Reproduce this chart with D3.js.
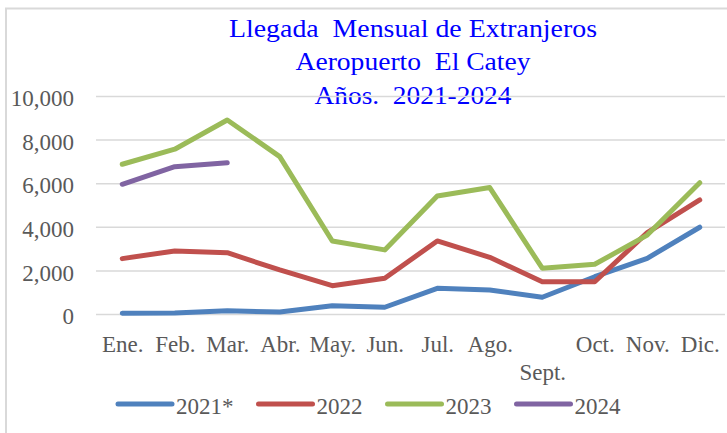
<!DOCTYPE html>
<html>
<head>
<meta charset="utf-8">
<script src="https://cdn.jsdelivr.net/npm/d3@7"></script>
<style>
  body { margin: 0; background: #fff; }
  svg text { font-family: "Liberation Serif", "Times New Roman", serif; }
</style>
</head>
<body>
<div id="chart"></div>
<script>
// monthly foreign arrivals, El Catey airport
const months = ["Ene.", "Feb.", "Mar.", "Abr.", "May.", "Jun.", "Jul.", "Ago.", "Sept.", "Oct.", "Nov.", "Dic."];
const seriesNames = ["2021*", "2022", "2023", "2024"];
const values2021 = [30, 50, 150, 90, 380, 310, 1180, 1100, 770, 1710, 2555, 3980];
const values2022 = [2540, 2890, 2810, 2020, 1300, 1640, 3350, 2600, 1480, 1480, 3730, 5230];
const values2023 = [6870, 7560, 8900, 7220, 3350, 2940, 5410, 5800, 2100, 2280, 3620, 6020];
const values2024 = [5950, 6760, 6940];
const yTicks = [0, 2000, 4000, 6000, 8000, 10000];
const titleLines = ["Llegada  Mensual de Extranjeros", "Aeropuerto  El Catey", "Años.  2021-2024"];

const colors = ["#4F81BD", "#C0504D", "#9BBB59", "#8064A2"];
const allValues = [values2021, values2022, values2023, values2024];

const width = 727, height = 433;
const margin = {top: 96, right: 1, bottom: 119, left: 96};
const innerW = width - margin.left - margin.right;
const innerH = height - margin.top - margin.bottom;

const svg = d3.select("#chart").append("svg")
  .attr("width", width)
  .attr("height", height);

svg.append("rect")
  .attr("width", width).attr("height", height)
  .attr("fill", "#fff");

// chart frame (cut off at right and bottom)
svg.append("rect")
  .attr("x", 6).attr("y", 8.5)
  .attr("width", 740).attr("height", 450)
  .attr("fill", "none")
  .attr("stroke", "#d9d9d9")
  .attr("stroke-width", 2);

// title
svg.append("g").selectAll("text")
  .data(titleLines)
  .join("text")
  .attr("x", 413)
  .attr("y", (d, i) => 36.5 + i * 33.5)
  .attr("text-anchor", "middle")
  .attr("fill", "#0000FF")
  .attr("font-size", 25)
  .attr("textLength", (d, i) => [368, 235, 197][i])
  .attr("lengthAdjust", "spacingAndGlyphs")
  .style("white-space", "pre")
  .text(d => d);

const g = svg.append("g")
  .attr("transform", "translate(" + margin.left + "," + margin.top + ")");

const x = d3.scalePoint()
  .domain(months)
  .range([0, innerW])
  .padding(0.5);

const y = d3.scaleLinear()
  .domain([0, 10000])
  .range([innerH, 0]);

// y axis + gridlines
const yAxis = g.append("g")
  .call(d3.axisLeft(y)
    .tickValues(yTicks)
    .tickFormat(d3.format(","))
    .tickSize(-(innerW - 1))
    .tickPadding(22));
yAxis.select(".domain").remove();
yAxis.selectAll("line")
  .attr("stroke", "#d9d9d9")
  .attr("stroke-width", 1.5);
yAxis.selectAll("text")
  .attr("fill", "#595959")
  .attr("font-size", 23)
  .attr("dy", "0.42em");

// x axis
const xAxis = g.append("g")
  .attr("transform", "translate(0," + innerH + ")")
  .call(d3.axisBottom(x).tickSize(0).tickPadding(22));
xAxis.select(".domain").remove();
xAxis.selectAll("text")
  .attr("fill", "#595959")
  .attr("font-size", 23)
  .attr("dy", d => d === "Sept." ? "1.9em" : "0.71em");

// lines
const line = d3.line()
  .x((d, i) => x(months[i]))
  .y(d => y(d));

g.append("g").selectAll("path")
  .data(allValues)
  .join("path")
  .attr("fill", "none")
  .attr("stroke", (d, i) => colors[i])
  .attr("stroke-width", 5)
  .attr("stroke-linejoin", "round")
  .attr("stroke-linecap", "round")
  .attr("d", line);

// legend
const legend = svg.append("g").attr("transform", "translate(0,404)");
let lx = 118;
seriesNames.forEach((name, i) => {
  const item = legend.append("g").attr("transform", "translate(" + lx + ",0)");
  item.append("line")
    .attr("x1", 0).attr("x2", 54)
    .attr("stroke", colors[i])
    .attr("stroke-width", 5)
    .attr("stroke-linecap", "round");
  const t = item.append("text")
    .attr("x", 58)
    .attr("dy", "0.42em")
    .attr("fill", "#595959")
    .attr("font-size", 23)
    .text(name);
  lx += 58 + t.node().getComputedTextLength() + 25;
});
</script>
</body>
</html>
